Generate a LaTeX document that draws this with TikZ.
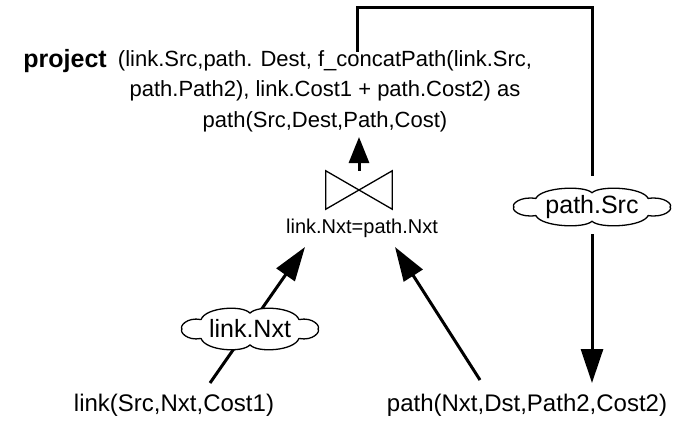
\documentclass[tikz,border=0pt]{standalone}
\usepackage{fontspec}
\setmainfont{Liberation Sans}
\usetikzlibrary{arrows.meta}
\begin{document}
\begin{tikzpicture}[x=1pt,y=-1pt,
  conn/.style={line width=3pt},
  bigtip/.style={-{Triangle[length=34pt,width=22pt]}},
  uptip/.style={-{Triangle[length=26pt,width=20pt]}},
  thin/.style={line width=1.3pt},
  cloudline/.style={line width=1.3pt, fill=white, line join=round},
  cloudtext/.style={inner sep=0pt, font=\fontsize{25}{28}\selectfont},
  lbl/.style={inner sep=0pt, font=\fontsize{24}{28}\selectfont}]
\useasboundingbox (0,0) rectangle (679,420);
% texts
\node[inner sep=0pt, align=center, font=\fontsize{22}{30.5}\selectfont] (proj) at (325,91)
  {(link.Src,path. Dest, f\_concatPath(link.Src,\\ path.Path2), link.Cost1 + path.Cost2) as\\ path(Src,Dest,Path,Cost)};
\node[inner sep=0pt, anchor=base east, font=\fontsize{25}{28}\selectfont\bfseries] (projkw) at (107,67) {project};
\node[inner sep=0pt, minimum width=66pt, minimum height=38pt] (join) at (359,190) {};
\draw[thin] (join.north west) -- (join.south east) -- (join.north east) -- (join.south west) -- cycle;
\node[inner sep=0pt, font=\fontsize{20}{24}\selectfont] (jl) at (362,228) {link.Nxt=path.Nxt};
\node[lbl] (lt) at (174,405) {link(Src,Nxt,Cost1)};
\node[lbl] (pt) at (527,405) {path(Nxt,Dst,Path2,Cost2)};
% coordinates
\coordinate (ptop) at (357,52);
\coordinate (topy) at (0,8);
\coordinate (jtip) at (359,137);
\coordinate (ls) at (210,383);
\coordinate (ltip) at (305,247);
\coordinate (ps) at (480,380);
\coordinate (ptip) at (395,247);
\coordinate (rtip) at (592,383);
\coordinate (cl) at (250,329);
\coordinate (cp) at (592,207);
% connectors
\draw[conn,uptip] (join.north) -- (jtip);
\draw[conn,bigtip] (ls) -- (ltip);
\draw[conn,bigtip] (ps) -- (ptip);
% clouds
\def\cloudoutline{(-0.72,-0.45) .. controls (-0.65,-1.05) and (-0.1,-1.15) .. (0,-0.75)
  .. controls (0.1,-1.15) and (0.65,-1.05) .. (0.72,-0.45)
  .. controls (0.93,-0.58) and (1.04,-0.12) .. (1,0)
  .. controls (1.04,0.12) and (0.93,0.58) .. (0.72,0.45)
  .. controls (0.65,1.05) and (0.1,1.15) .. (0,0.75)
  .. controls (-0.1,1.15) and (-0.65,1.05) .. (-0.72,0.45)
  .. controls (-0.93,0.58) and (-1.04,0.12) .. (-1,0)
  .. controls (-1.04,-0.12) and (-0.93,-0.58) .. (-0.72,-0.45) -- cycle}
\begin{scope}[shift={(cl)}, xscale=68, yscale=21]
  \draw[cloudline] \cloudoutline;
\end{scope}
\begin{scope}[shift={(cp)}, xscale=78, yscale=19]
  \draw[cloudline] \cloudoutline;
\end{scope}
\node[cloudtext, minimum width=136pt, minimum height=42pt] (lnc) at (cl) {link.Nxt};
\node[cloudtext, minimum width=156pt, minimum height=38pt] (psc) at (cp) {path.Src};
\draw[conn] (ptop) -- (ptop |- topy) -| ([yshift=12pt]psc.north);
\draw[conn,bigtip] ([yshift=-8pt]psc.south) -- (rtip);
\end{tikzpicture}
\end{document}
